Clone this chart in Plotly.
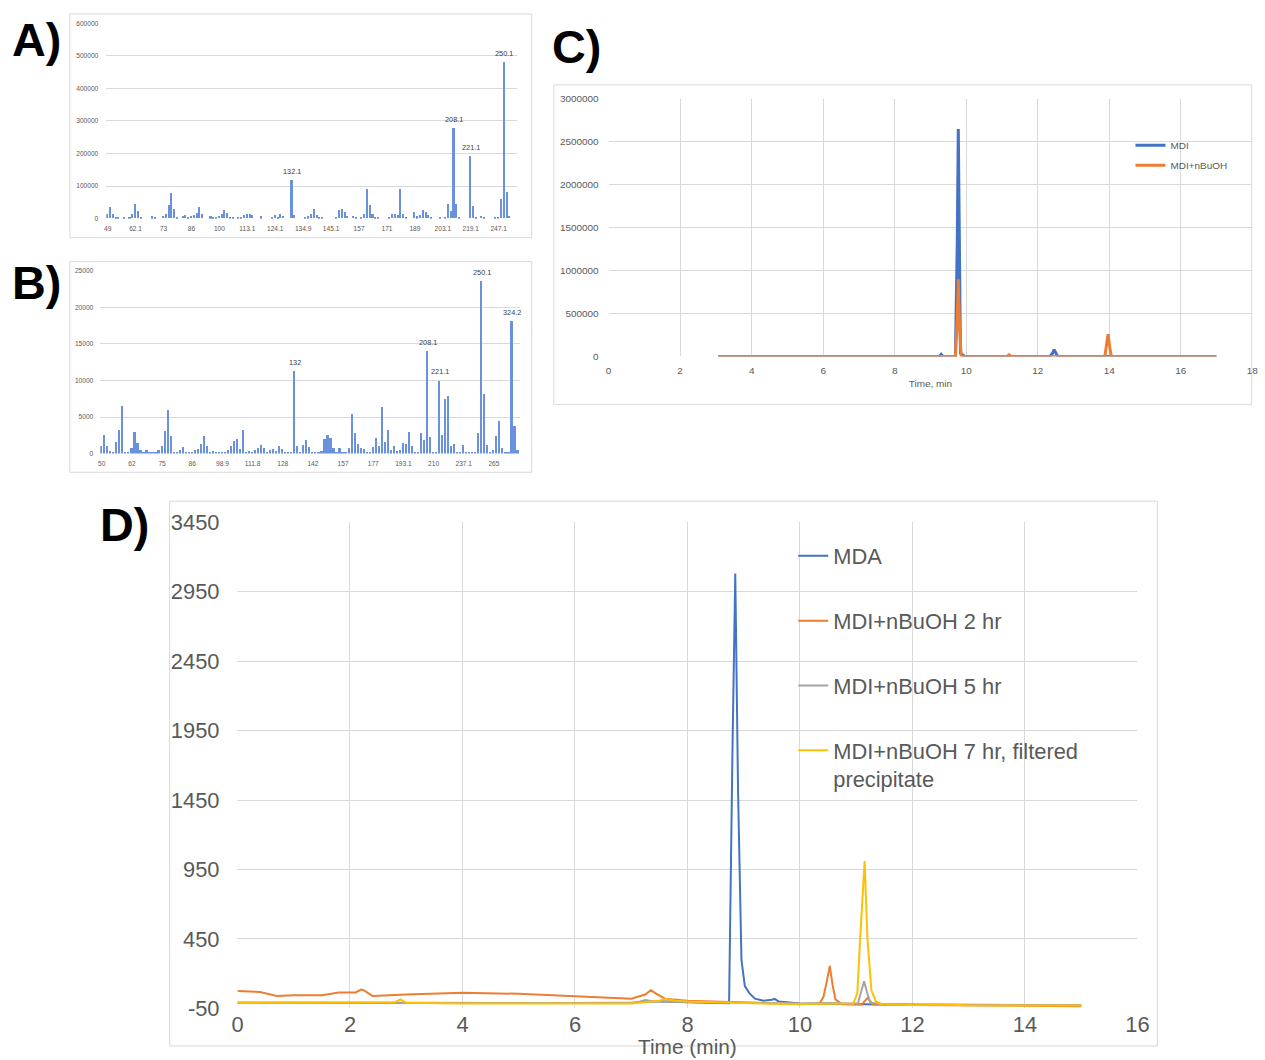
import plotly.graph_objects as go

W, H = 1265, 1060
# The photographed page is slightly reduced and offset; map target pixel positions
# (as measured on the reference picture) into figure paper coordinates.
SX, SY, OX, OY = 0.988, 0.978, 6.0, 12.0
def px(x): return ((x - OX) / SX) / W
def py(y): return 1 - ((y - OY) / SY) / H
def fs(s): return s / 0.983

FONT = "Liberation Sans, Arial, sans-serif"
GRID = "#d9d9d9"
TXT = "#595959"
BLUE, ORANGE, GRAY, YELLOW = "#4472C4", "#ED7D31", "#A5A5A5", "#FFC000"
BAR = "#6a91dc"

# ---------------- Panel A: mass spectrum (categories by index) ----------------
A_ncat = 147
A_ticks = ["49", "62.1", "73", "86", "100", "113.1", "124.1", "134.9", "145.1",
           "157", "171", "189", "203.1", "219.1", "247.1"]
A_pos = [0, 1, 2, 3, 4, 6, 8, 9, 10, 11,
         12, 16, 17, 20, 21, 22, 23, 24, 25, 27,
         28, 29, 30, 31, 32, 33, 34, 37, 38, 39,
         40, 41, 42, 43, 44, 45, 47, 48, 49, 50,
         51, 52, 55, 59, 60, 61, 62, 63, 66, 67,
         71, 72, 73, 74, 75, 76, 77, 82, 83, 84,
         85, 86, 88, 89, 91, 92, 93, 94, 95, 96,
         97, 101, 102, 103, 104, 105, 106, 107, 110, 111,
         112, 113, 114, 115, 116, 119, 121, 122, 123, 124,
         125, 126, 130, 131, 132, 134, 135, 139, 140, 141,
         142, 143, 144]
A_int = [15000, 36000, 13000, 3000, 2000, 2000, 2000, 15000, 45000, 22000,
         5000, 6000, 3000, 8000, 15000, 42000, 78000, 28000, 3000, 7000,
         11000, 4000, 7000, 11000, 17000, 35000, 12000, 6000, 3000, 4000,
         7000, 15000, 27000, 18000, 4000, 3000, 5000, 3000, 9000, 12000,
         12000, 10000, 6000, 2000, 9000, 5000, 12000, 7000, 118000, 11000,
         3000, 6000, 15000, 28000, 9000, 3000, 3000, 3000, 25000, 28000,
         21000, 8000, 8000, 3000, 3000, 15000, 90000, 42000, 12000, 5000,
         5000, 3000, 15000, 15000, 9000, 91000, 15000, 5000, 21000, 6000,
         9000, 25000, 20000, 9000, 3000, 3000, 3000, 44000, 24000, 278000,
         43000, 3000, 193000, 37000, 3000, 7000, 3000, 3000, 3000, 61000,
         481000, 81000, 8000]
A_peak_pos = [66, 124, 130, 142]
A_peak_lbl = ["132.1", "208.1", "221.1", "250.1"]

# ---------------- Panel B: mass spectrum ----------------
B_ticks = ["50", "62", "75", "86", "98.9", "111.8", "128", "142", "157", "177",
           "193.1", "210", "237.1", "265"]
B_int = [1100, 2550, 1100, 400, 300, 1550, 3300, 6550, 200, 200,
         800, 2950, 1400, 500, 150, 450, 300, 300, 300, 450,
         1050, 3050, 6000, 2400, 300, 300, 500, 850, 200, 200,
         300, 500, 700, 1300, 2400, 1000, 150, 350, 300, 250,
         200, 200, 550, 1000, 1700, 2000, 650, 3200, 200, 350,
         200, 500, 750, 1250, 750, 200, 550, 600, 350, 1050,
         700, 200, 200, 200, 11250, 1100, 300, 1250, 1900, 850,
         250, 250, 200, 400, 2000, 2550, 2150, 750, 200, 800,
         150, 150, 800, 5450, 2800, 1350, 800, 700, 200, 300,
         900, 2200, 1000, 6400, 1550, 3200, 500, 1050, 400, 500,
         1450, 1300, 3000, 1050, 150, 150, 2800, 1850, 14000, 2250,
         150, 150, 10000, 2500, 7550, 7850, 1100, 1300, 200, 300,
         1200, 200, 200, 200, 200, 2800, 23650, 8150, 1200, 100,
         450, 2400, 4450, 750, 250, 200, 18100, 3800, 450]
B_peak_pos = [64, 108, 112, 126, 136]
B_peak_lbl = ["132", "208.1", "221.1", "250.1", "324.2"]

# ---------------- Panel C: chromatogram ----------------
C_t_mdi = [3.07, 9.0, 9.25, 9.3, 9.35, 9.7, 9.75, 9.78, 9.81, 9.84, 9.87, 9.95,
           12.35, 12.42, 12.46, 12.5, 12.56, 17.0]
C_v_mdi = [0, 0, 0, 25000, 0, 0, 1300000, 2650000, 1200000, 40000, 30000, 0,
           0, 40000, 80000, 40000, 0, 0]
C_t_nbu = [3.07, 9.7, 9.75, 9.78, 9.81, 9.86, 11.15, 11.2, 11.25,
           13.88, 13.93, 13.97, 14.01, 14.06, 17.0]
C_v_nbu = [0, 0, 450000, 900000, 400000, 0, 0, 20000, 0,
           0, 150000, 260000, 120000, 0, 0]

# ---------------- Panel D: chromatogram ----------------
D_yticks = [-50, 450, 950, 1450, 1950, 2450, 2950, 3450]
D_t_mda = [0, 1, 2, 3, 4, 5, 6, 7, 7.2, 7.5, 8, 8.6, 8.74, 8.8, 8.85, 8.9, 8.96,
           9.02, 9.1, 9.2, 9.35, 9.5, 9.55, 9.62, 10, 11, 12, 13, 14, 15]
D_v_mda = [-10, -10, -10, -10, -12, -12, -12, -12, -2, 2, -5, -15, -12, 1800, 3080,
           1500, 300, 110, 60, 20, 5, 12, 18, 0, -15, -20, -22, -25, -25, -27]
D_t_2hr = [0, 0.3, 0.4, 0.7, 1.0, 1.5, 1.7, 1.8, 2.1, 2.2, 2.25, 2.4, 3, 4, 5, 6,
           6.5, 7.0, 7.25, 7.35, 7.45, 7.6, 8, 9, 10, 10.35, 10.42, 10.48, 10.53,
           10.58, 10.63, 10.75, 11.1, 11.2, 11.3, 12, 13, 14, 15]
D_v_2hr = [75, 68, 68, 40, 45, 45, 60, 65, 65, 85, 80, 40, 50, 62, 55, 35,
           25, 20, 50, 80, 55, 20, 5, -10, -20, -15, 35, 150, 255,
           120, 15, -20, -22, 25, -22, -25, -30, -33, -35]
D_t_5hr = [0, 2, 4, 6, 7.1, 7.25, 7.4, 8, 9, 10, 10.5, 11.03, 11.09, 11.14, 11.19,
           11.25, 11.5, 12, 13, 14, 15]
D_v_5hr = [-10, -12, -12, -12, -8, 10, 0, -5, -10, -15, -12, -15, 70, 145, 70,
           -10, -20, -25, -25, -25, -25]
D_t_7hr = [0, 1, 2, 2.8, 2.9, 3.0, 4, 5, 6, 7.0, 7.5, 7.6, 7.8, 8, 9, 10, 10.95,
           11.02, 11.07, 11.15, 11.2, 11.27, 11.35, 11.45, 12, 12.5, 13, 14, 15]
D_v_7hr = [-10, -10, -8, -5, 15, -10, -15, -15, -15, -15, 5, 18, 5, 0, -12, -18, -15,
           60, 450, 1010, 450, 80, 0, -20, -25, -22, -28, -30, -30]

fig = go.Figure()

fig.add_trace(go.Bar(x=A_pos, y=A_int, xaxis="x", yaxis="y", width=0.55,
                     marker=dict(color=BAR, line=dict(width=0)), showlegend=False))
fig.add_trace(go.Bar(x=list(range(len(B_int))), y=B_int, xaxis="x2", yaxis="y2", width=0.55,
                     marker=dict(color=BAR, line=dict(width=0)), showlegend=False))
fig.add_trace(go.Scatter(x=C_t_mdi, y=C_v_mdi, xaxis="x3", yaxis="y3", mode="lines",
                         name="MDI", line=dict(color=BLUE, width=3), legend="legend2",
                         legendgroup="c1"))
fig.add_trace(go.Scatter(x=C_t_nbu, y=C_v_nbu, xaxis="x3", yaxis="y3", mode="lines",
                         name="MDI+nBuOH", line=dict(color=ORANGE, width=3), legend="legend2",
                         legendgroup="c2"))
for t, v, name, col, g in [
    (D_t_mda, D_v_mda, "MDA", BLUE, "d1"),
    (D_t_2hr, D_v_2hr, "MDI+nBuOH 2 hr", ORANGE, "d2"),
    (D_t_5hr, D_v_5hr, "MDI+nBuOH 5 hr", GRAY, "d3"),
    (D_t_7hr, D_v_7hr, "MDI+nBuOH 7 hr, filtered<br>precipitate", YELLOW, "d4"),
]:
    fig.add_trace(go.Scatter(x=t, y=v, xaxis="x4", yaxis="y4", mode="lines", name=name,
                             line=dict(color=col, width=2), legend="legend", legendgroup=g))

small = dict(family=FONT, size=fs(6.5), color=TXT)
cfont = dict(family=FONT, size=fs(9.8), color=TXT)
dfont = dict(family=FONT, size=fs(21.5), color=TXT)

def cat_axis(domain, n, ticks, anchor):
    return dict(domain=domain, range=[-0.5, n - 0.5], tickmode="array",
                tickvals=[i * 10 for i in range(len(ticks))], ticktext=ticks,
                showgrid=False, zeroline=False, showline=False, ticks="",
                tickfont=small, tickangle=0, anchor=anchor, ticklabelstandoff=5)

def val_axis(domain, rng, dtick, anchor, font, standoff):
    return dict(domain=domain, range=rng, dtick=dtick, tick0=rng[0], showgrid=True,
                gridcolor=GRID, gridwidth=1, zeroline=False, showline=False, ticks="",
                tickfont=font, tickformat="d", anchor=anchor, ticklabelstandoff=standoff)

annotations = []
A_map = dict(zip(A_pos, A_int))
for p, lbl in zip(A_peak_pos, A_peak_lbl):
    annotations.append(dict(x=p, y=A_map[p], xref="x", yref="y", text=lbl, showarrow=False,
                            yanchor="bottom", yshift=2, font=dict(family=FONT, size=fs(7.2), color="#404040")))
for p, lbl in zip(B_peak_pos, B_peak_lbl):
    annotations.append(dict(x=p, y=B_int[p], xref="x2", yref="y2", text=lbl, showarrow=False,
                            yanchor="bottom", yshift=2, font=dict(family=FONT, size=fs(7.2), color="#404040")))

for lbl, cx, cy in [("A)", 37, 40), ("B)", 37, 283), ("C)", 578, 47), ("D)", 125, 526)]:
    annotations.append(dict(x=px(cx), y=py(cy), xref="paper", yref="paper", text="<b>%s</b>" % lbl,
                            showarrow=False, xanchor="center", yanchor="middle",
                            font=dict(family=FONT, size=fs(46), color="black")))
# x-axis title of panel D (kept inside the picture)
annotations.append(dict(x=px(689), y=py(1048.5), xref="paper", yref="paper", text="Time (min)",
                        showarrow=False, xanchor="center", yanchor="middle",
                        font=dict(family=FONT, size=fs(20.5), color=TXT)))

shapes = []
for x0, y0, x1, y1 in [(70, 14, 533, 238), (70, 262, 533, 473), (555, 85, 1264, 405), (170, 502, 1160, 1059)]:
    shapes.append(dict(type="rect", xref="paper", yref="paper", x0=px(x0), x1=min(px(x1), 0.999),
                       y0=max(py(y1), 0.001), y1=py(y0),
                       line=dict(color=GRID, width=1), fillcolor="rgba(0,0,0,0)", layer="below"))

yaxis4 = val_axis([py(1010), py(523)], [-50, 3450], 500, "x4", dfont, 17)
yaxis4.update(tickmode="array", tickvals=D_yticks, ticktext=[str(v) for v in D_yticks])

fig.update_layout(
    width=W, height=H, autosize=False, margin=dict(l=0, r=0, t=0, b=0),
    paper_bgcolor="white", plot_bgcolor="white", font=dict(family=FONT, color=TXT),
    xaxis=cat_axis([px(106.5), px(518)], A_ncat, A_ticks, "y"),
    yaxis=val_axis([py(219), py(23.3)], [0, 600000], 100000, "x", small, 7),
    xaxis2=cat_axis([px(100.5), px(520.7)], len(B_int), B_ticks, "y2"),
    yaxis2=val_axis([py(454.3), py(271.3)], [0, 25000], 5000, "x2", small, 6),
    xaxis3=dict(domain=[px(610), px(1255)], range=[0, 18], dtick=2, tick0=0, showgrid=True,
                gridcolor=GRID, zeroline=False, showline=False, ticks="", anchor="y3",
                tickfont=cfont, ticklabelstandoff=7,
                title=dict(text="Time, min", font=cfont, standoff=4)),
    yaxis3=val_axis([py(357), py(99)], [0, 3000000], 500000, "x3", cfont, 9),
    xaxis4=dict(domain=[px(238), px(1140)], range=[0, 16], dtick=2, tick0=0, showgrid=True,
                gridcolor=GRID, zeroline=False, showline=False, ticks="", anchor="y4",
                tickfont=dfont, ticklabelstandoff=1),
    yaxis4=yaxis4,
    legend=dict(x=px(795), y=py(536), xanchor="left", yanchor="top", bgcolor="rgba(0,0,0,0)",
                font=dfont, tracegroupgap=33.4, valign="top", itemwidth=30),
    legend2=dict(x=px(1133), y=py(131), xanchor="left", yanchor="top", bgcolor="rgba(0,0,0,0)",
                 font=cfont, tracegroupgap=1, itemwidth=30),
    annotations=annotations, shapes=shapes, bargap=0,
)

fig.write_html("out.html", config={"displayModeBar": False},
               post_script="document.body.style.margin='0px';"
                           "document.documentElement.style.overflow='hidden';"
                           "document.body.style.overflow='hidden';")
